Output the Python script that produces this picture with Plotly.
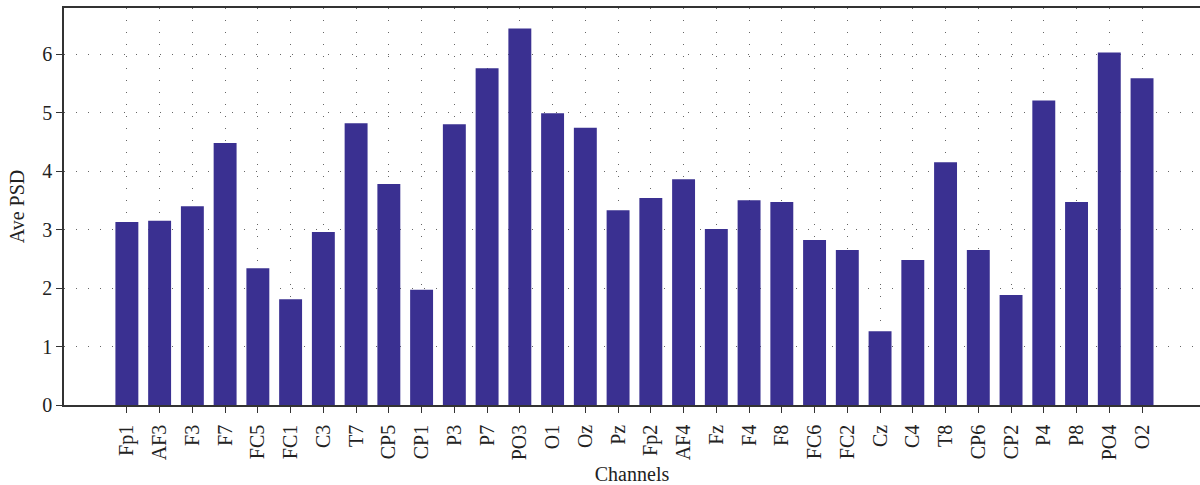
import plotly.graph_objects as go

channels = ["Fp1", "AF3", "F3", "F7", "FC5", "FC1", "C3", "T7", "CP5", "CP1",
            "P3", "P7", "PO3", "O1", "Oz", "Pz", "Fp2", "AF4", "Fz", "F4",
            "F8", "FC6", "FC2", "Cz", "C4", "T8", "CP6", "CP2", "P4", "P8",
            "PO4", "O2"]
ave_psd = [3.13, 3.15, 3.40, 4.48, 2.34, 1.81, 2.96, 4.82, 3.78, 1.97,
           4.80, 5.76, 6.44, 4.99, 4.74, 3.33, 3.54, 3.86, 3.01, 3.50,
           3.47, 2.82, 2.65, 1.26, 2.48, 4.15, 2.65, 1.88, 5.21, 3.47,
           6.03, 5.59]
y_ticks = [0, 1, 2, 3, 4, 5, 6]

xpos = list(range(len(channels)))

fig = go.Figure(go.Bar(
    x=xpos, y=ave_psd, width=0.70,
    marker=dict(color="rgb(58,48,145)", line=dict(width=0)),
))

font = "Liberation Serif, Times New Roman, serif"
fig.update_layout(
    width=1200, height=485,
    margin=dict(l=64, r=0, t=8, b=80),
    plot_bgcolor="white", paper_bgcolor="white",
    font=dict(family=font, size=20, color="#222"),
    showlegend=False,
    xaxis=dict(
        range=[-1.92, 32.77],
        tickmode="array", tickvals=xpos, ticktext=channels,
        tickangle=-90, ticks="outside", ticklen=6, tickcolor="#333",
        ticklabelstandoff=4,
        showline=True, linecolor="#333", linewidth=1.5, mirror=True,
        showgrid=True, gridcolor="#666", gridwidth=1, griddash="1px,11px",
        zeroline=False,
        title=dict(text="Channels", standoff=12, font=dict(size=20)),
        tickfont=dict(size=20),
        automargin=False,
    ),
    yaxis=dict(
        range=[0, 6.79],
        tickmode="array", tickvals=y_ticks,
        ticks="outside", ticklen=6, tickcolor="#333",
        showline=True, linecolor="#333", linewidth=1.5,
        showgrid=True, gridcolor="#666", gridwidth=1, griddash="1px,11px",
        zeroline=False,
        title=dict(text="Ave PSD", standoff=12, font=dict(size=20)),
        tickfont=dict(size=20),
        automargin=False,
    ),
)

fig.write_html("out.html", config={"displayModeBar": False},
               post_script="document.body.style.margin='0';")
